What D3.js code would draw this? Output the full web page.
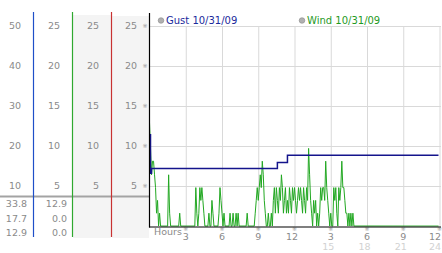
<!DOCTYPE html>
<html>
<head>
<meta charset="utf-8">
<script src="https://cdn.jsdelivr.net/npm/d3@7"></script>
<style>
  body { margin: 0; background: #fff; }
  text { font-family: "DejaVu Sans", Verdana, sans-serif; }
</style>
</head>
<body>
<script>
// wind speed, one reading every 5 minutes (one row = one hour)
const wind = [
  12.9, 9.7, 6.4, 8.1, 8.1, 6.4, 4.8, 1.6, 3.2, 0, 1.6, 0,
  0, 0, 0, 0, 0, 0, 0, 6.4, 1.6, 0, 0, 0,
  0, 0, 0, 0, 0, 0, 1.6, 0, 0, 0, 0, 0,
  0, 0, 0, 0, 0, 0, 0, 0, 0, 0, 4.8, 1.6,
  0, 1.6, 4.8, 3.2, 4.8, 3.2, 1.6, 0, 0, 0, 0, 1.6,
  0, 0, 3.2, 1.6, 0, 0, 0, 0, 0, 1.6, 4.8, 3.2,
  1.6, 0, 1.6, 0, 0, 0, 0, 0, 1.6, 0, 0, 1.6,
  0, 0, 1.6, 0, 1.6, 0, 0, 0, 0, 0, 0, 0,
  0, 1.6, 0, 0, 0, 0, 0, 0, 0, 1.6, 3.2, 4.8,
  3.2, 4.8, 6.4, 4.8, 8.1, 6.4, 3.2, 1.6, 0, 0, 1.6, 0,
  0, 1.6, 0, 3.2, 4.8, 1.6, 4.8, 3.2, 1.6, 4.8, 3.2, 6.4,
  4.8, 1.6, 3.2, 4.8, 1.6, 3.2, 1.6, 4.8, 3.2, 1.6, 4.8, 3.2,
  4.8, 3.2, 1.6, 3.2, 4.8, 3.2, 4.8, 3.2, 1.6, 4.8, 3.2, 1.6,
  4.8, 3.2, 9.7, 6.4, 3.2, 1.6, 0, 3.2, 1.6, 3.2, 0, 1.6,
  0, 1.6, 4.8, 3.2, 4.8, 4.8, 3.2, 8.1, 4.8, 3.2, 1.6, 0,
  1.6, 0, 0, 4.8, 3.2, 4.8, 1.6, 0, 4.8, 3.2, 4.8, 8.1,
  4.8, 4.8, 3.2, 1.6, 1.6, 0, 1.6, 0, 1.6, 0, 1.6, 0,
  0, 0, 0, 0, 0, 0, 0, 0, 0, 0, 0, 0,
  0, 0, 0, 0, 0, 0, 0, 0, 0, 0, 0, 0,
  0, 0, 0, 0, 0, 0, 0, 0, 0, 0, 0, 0,
  0, 0, 0, 0, 0, 0, 0, 0, 0, 0, 0, 0,
  0, 0, 0, 0, 0, 0, 0, 0, 0, 0, 0, 0,
  0, 0, 0, 0, 0, 0, 0, 0, 0, 0, 0, 0,
  0, 0, 0, 0, 0, 0, 0, 0, 0, 0, 0, 0
];

// gust only stored when it changes: [5-minute step, value]
const gust = [[0, 22.8], [1, 13.2], [2, 14.4], [127, 15.9], [137, 17.7], [287, 17.7]];

const gustTicks = [10, 20, 30, 40, 50];
const windTicks = [5, 10, 15, 20, 25];
const hourTicks = [3, 6, 9, 12, 15, 18, 21, 24];
const hourLabels = ["3", "6", "9", "12", "3", "6", "9", "12"];
const hourLabels2 = ["", "", "", "", "15", "18", "21", "24"];
const gustStats = ["33.8", "17.7", "12.9"];
const windStats = ["12.9", "0.0", "0.0"];
const legend = ["Gust 10/31/09", "Wind 10/31/09"];

const width = 442, height = 253;

let svg = d3.select("body").append("svg")
    .attr("width", width)
    .attr("height", height);

const x = d3.scaleLinear().domain([0, 24]).range([149.5, 439.5]);
const y = d3.scaleLinear().domain([0, 25]).range([226, 26]);
const yGust = d3.scaleLinear().domain([0, 50]).range([226, 26]);
const stepHours = 5 / 60;

// left panel: shaded columns
svg.append("rect").attr("x", 73).attr("y", 15).attr("width", 38).attr("height", 223).attr("fill", "#f4f4f4");
svg.append("rect").attr("x", 112).attr("y", 16).attr("width", 37).attr("height", 222).attr("fill", "#f4f4f4");

// readout separator
svg.append("line")
    .attr("x1", 0).attr("x2", 149).attr("y1", 196.5).attr("y2", 196.5)
    .attr("stroke", "#a3a3a3").attr("stroke-width", 2);

// colored column dividers
[[33.5, "#1f4fc8"], [72.5, "#2fa82f"], [111.5, "#c83232"]].forEach(function(d) {
  svg.append("line")
      .attr("x1", d[0]).attr("x2", d[0]).attr("y1", 12).attr("y2", 237)
      .attr("stroke", d[1]).attr("stroke-width", 1.2);
});

// column tick labels
function colLabels(ticks, scale, right) {
  svg.append("g").selectAll("text")
      .data(ticks)
      .enter().append("text")
      .attr("x", right)
      .attr("y", function(d) { return scale(d); })
      .attr("dy", "0.35em")
      .attr("text-anchor", "end")
      .attr("font-size", "9.5px")
      .attr("fill", "#8a8a8a")
      .text(function(d) { return d; });
}
colLabels(gustTicks, yGust, 21);
colLabels(windTicks, y, 60);
colLabels(windTicks, y, 99);
colLabels(windTicks, y, 137);

// readouts under the separator
function readout(vals, right) {
  svg.append("g").selectAll("text")
      .data(vals)
      .enter().append("text")
      .attr("x", right)
      .attr("y", function(d, i) { return 204 + i * 14.3; })
      .attr("dy", "0.35em")
      .attr("text-anchor", "end")
      .attr("font-size", "9.5px")
      .attr("fill", "#8a8a8a")
      .text(function(d) { return d; });
}
readout(gustStats, 27);
readout(windStats, 67);

// grid
svg.append("g")
    .attr("transform", "translate(149.5,0)")
    .call(d3.axisLeft(y).tickValues(windTicks).tickSize(-(441 - 149.5)).tickFormat(""))
    .call(function(g) {
      g.select(".domain").remove();
      g.selectAll("line").attr("stroke", "#d9d9d9");
    });

svg.append("g")
    .attr("transform", "translate(0,226)")
    .call(d3.axisBottom(x).tickValues(hourTicks).tickSize(-200).tickFormat(""))
    .call(function(g) {
      g.select(".domain").remove();
      g.selectAll("line").attr("stroke", "#d9d9d9");
    });

// tick glyphs
svg.append("g").selectAll("text")
    .data(windTicks)
    .enter().append("text")
    .attr("x", 145)
    .attr("y", function(d) { return y(d); })
    .attr("dy", "0.35em")
    .attr("text-anchor", "middle")
    .attr("font-size", "6px")
    .attr("fill", "#999")
    .text("\u203B");

svg.append("g").selectAll("text")
    .data(hourTicks)
    .enter().append("text")
    .attr("x", function(d) { return x(d); })
    .attr("y", 229)
    .attr("dy", "0.35em")
    .attr("text-anchor", "middle")
    .attr("font-size", "6px")
    .attr("fill", "#999")
    .text("\u203B");

// hour labels (two-digit ones sit a little left of their line, last kept inside)
function labelX(d, s) {
  let px = x(d) - (s.length > 1 ? 2.5 : 0);
  return Math.min(px, 441 - s.length * 3);
}

svg.append("g").selectAll("text")
    .data(hourTicks)
    .enter().append("text")
    .attr("x", function(d, i) { return labelX(d, hourLabels[i]); })
    .attr("y", 237)
    .attr("dy", "0.35em")
    .attr("text-anchor", "middle")
    .attr("font-size", "9.5px")
    .attr("fill", "#8a8a8a")
    .text(function(d, i) { return hourLabels[i]; });

svg.append("g").selectAll("text")
    .data(hourTicks)
    .enter().append("text")
    .attr("x", function(d, i) { return labelX(d, hourLabels2[i]); })
    .attr("y", 246.5)
    .attr("dy", "0.35em")
    .attr("text-anchor", "middle")
    .attr("font-size", "9.5px")
    .attr("fill", "#d2d2d2")
    .text(function(d, i) { return hourLabels2[i]; });

svg.append("text")
    .attr("x", 154).attr("y", 232)
    .attr("dy", "0.35em")
    .attr("font-size", "9.5px")
    .attr("fill", "#8a8a8a")
    .text("Hours");

// series
const windLine = d3.line()
    .x(function(d, i) { return x(i * stepHours); })
    .y(function(d) { return y(d); });

const gustLine = d3.line()
    .curve(d3.curveStepAfter)
    .x(function(d) { return x(d[0] * stepHours); })
    .y(function(d) { return yGust(d[1]); });

svg.append("path")
    .data([wind])
    .attr("fill", "none")
    .attr("stroke", "#22a822")
    .attr("stroke-width", 1)
    .attr("d", windLine);

svg.append("path")
    .data([gust])
    .attr("fill", "none")
    .attr("stroke", "#14148c")
    .attr("stroke-width", 1.5)
    .attr("d", gustLine);

// axes lines
svg.append("line")
    .attr("x1", 149.5).attr("x2", 149.5).attr("y1", 13).attr("y2", 227.5)
    .attr("stroke", "#000").attr("stroke-width", 1.2);
svg.append("line")
    .attr("x1", 149).attr("x2", 441).attr("y1", 227).attr("y2", 227)
    .attr("stroke", "#000").attr("stroke-width", 1.2);

// legend
const legendX = [161, 302];
const legendColor = ["#1a2a9c", "#1f9a1f"];
legend.forEach(function(d, i) {
  svg.append("circle")
      .attr("cx", legendX[i]).attr("cy", 20.5).attr("r", 2.8)
      .attr("fill", "#b0b0b0").attr("stroke", "#888").attr("stroke-width", 0.6);
  svg.append("text")
      .attr("x", legendX[i] + 5).attr("y", 20.5)
      .attr("dy", "0.35em")
      .attr("font-size", "10px")
      .attr("fill", legendColor[i])
      .text(d);
});
</script>
</body>
</html>
